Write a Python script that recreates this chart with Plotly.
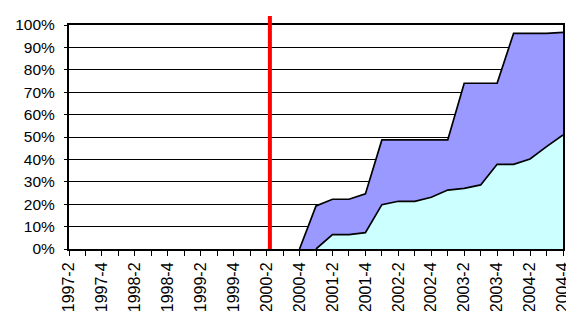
import plotly.graph_objects as go

quarters = [f"{y}-{q}" for y in range(1997, 2005) for q in range(1, 5)][1:]
# 1997-2 .. 2004-4 (31 quarters)
total = [None]*14 + [0, 19.2, 22.2, 22.2, 24.6, 48.7, 48.7, 48.7, 48.7, 48.7,
                     74.0, 74.0, 74.0, 96.3, 96.3, 96.3, 96.7]
lower = [None]*15 + [0, 6.4, 6.4, 7.3, 19.8, 21.3, 21.3, 23.1, 26.3,
                     27.1, 28.6, 37.8, 37.8, 40.2, 45.7, 50.9]
tick_labels = [q if i % 2 == 0 else "" for i, q in enumerate(quarters)]
ytick_vals = list(range(0, 101, 10))
ytick_text = [f"{v}%" for v in ytick_vals]
marker_quarter = "2000-2"

fig = go.Figure()
fig.add_trace(go.Scatter(x=quarters, y=total, mode="lines", fill="tozeroy",
                         fillcolor="#9999ff", line=dict(color="black", width=1.7),
                         hoverinfo="skip", cliponaxis=False))
fig.add_trace(go.Scatter(x=quarters, y=lower, mode="lines", fill="tozeroy",
                         fillcolor="#ccffff", line=dict(color="black", width=1.7),
                         hoverinfo="skip", cliponaxis=False))

fig.update_layout(
    width=566, height=311,
    margin=dict(l=69, r=3, t=25, b=62),
    paper_bgcolor="white", plot_bgcolor="white",
    showlegend=False,
    font=dict(family="Liberation Sans, Arial, sans-serif", size=15.5, color="black"),
)
fig.update_xaxes(type="category", categoryarray=quarters, range=[0, len(quarters)-1],
                 tickmode="array", tickvals=quarters, ticktext=tick_labels,
                 tickangle=-90, ticks="outside", ticklen=5, tickcolor="black",
                 tickfont=dict(size=16),
                 showgrid=False, showline=True, linecolor="black", linewidth=2,
                 mirror=True, zeroline=False, automargin=False)
fig.update_yaxes(range=[0, 100], tickmode="array", tickvals=ytick_vals, ticktext=ytick_text,
                 ticks="outside", ticklen=3, tickcolor="black",
                 ticklabelstandoff=6,
                 showgrid=True, gridcolor="black", gridwidth=1,
                 showline=True, linecolor="black", linewidth=2, mirror=True,
                 zeroline=False, layer="below traces", automargin=False)
idx = quarters.index(marker_quarter) + 0.2
fig.add_shape(type="line", xref="x", yref="paper", x0=idx, x1=idx, y0=0, y1=1.04,
              line=dict(color="red", width=4))
fig.write_html("out.html", config={"displayModeBar": False},
               post_script="document.body.style.margin='0';document.body.style.overflow='hidden';")
